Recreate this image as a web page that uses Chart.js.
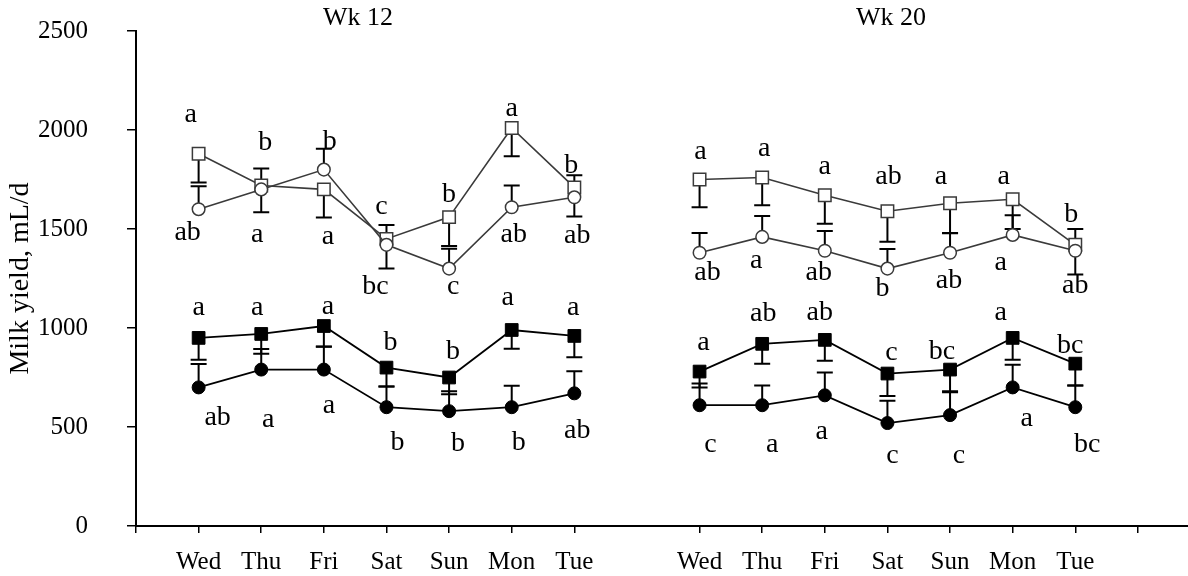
<!DOCTYPE html>
<html><head><meta charset="utf-8">
<script src="https://cdn.jsdelivr.net/npm/chart.js@4/dist/chart.umd.min.js"></script>
<style>html,body{margin:0;padding:0;background:#fff;overflow:hidden;} canvas{display:block;}</style>
</head><body>
<canvas id="c" width="1188" height="576"></canvas>
<script>
// ---------------- DATA ----------------
const days = ['Wed','Thu','Fri','Sat','Sun','Mon','Tue'];
const weeks = ['Wk 12','Wk 20'];
const yTitle = 'Milk yield, mL/d';

// values (mL/d)
const wk12OpenSquare   = [1880,1720,1700,1450,1560,2010,1710];
const wk12OpenCircle   = [1600,1700,1800,1420,1300,1610,1660];
const wk12FilledSquare = [950,970,1010,800,750,990,960];
const wk12FilledCircle = [700,790,790,600,580,600,670];
const wk20OpenSquare   = [1750,1760,1670,1590,1630,1650,1420];
const wk20OpenCircle   = [1380,1460,1390,1300,1380,1470,1390];
const wk20FilledSquare = [780,920,940,770,790,950,820];
const wk20FilledCircle = [610,610,660,520,560,700,600];

// error bars (signed: + drawn upward, - drawn downward)
const wk12OpenSquareErr   = [-145,-136,-142,-150,-146,-142,-147];
const wk12OpenCircleErr   = [116,105,105,100,100,110,112];
const wk12FilledSquareErr = [-110,-100,-103,-95,-85,-95,-108];
const wk12FilledCircleErr = [118,104,115,105,100,108,111];
const wk20OpenSquareErr   = [-140,-140,-144,-154,-152,-150,80];
const wk20OpenCircleErr   = [100,106,100,99,100,100,-120];
const wk20FilledSquareErr = [-80,-100,-105,-113,-110,-110,-110];
const wk20FilledCircleErr = [110,100,115,112,115,115,110];

// significance letters
const wk12OpenSquareSig   = ['a','b','b','c','b','a','b'];
const wk12OpenCircleSig   = ['ab','a','a','bc','c','ab','ab'];
const wk12FilledSquareSig = ['a','a','a','b','b','a','a'];
const wk12FilledCircleSig = ['ab','a','a','b','b','b','ab'];
const wk20OpenSquareSig   = ['a','a','a','ab','a','a','b'];
const wk20OpenCircleSig   = ['ab','a','ab','b','ab','a','ab'];
const wk20FilledSquareSig = ['a','ab','ab','c','bc','a','bc'];
const wk20FilledCircleSig = ['c','a','a','c','c','a','bc'];

// ---------------- LAYOUT (pixel offsets of letters from their point) ----------------
const letterOffsets = {
  os: [[-8,-39],[4,-43],[6,-48],[-5,-32],[0,-22],[0,-19],[-3,-22],  [1,-28],[2,-29],[0,-29],[1,-35],[-9,-27],[-9,-23],[-4,-30]],
  oc: [[-11,23],[-4,45],[4,67],[-11,42],[4,18],[2,27],[3,38],      [8,20],[-6,24],[-6,22],[-5,20],[-1,28],[-12,28],[0,35]],
  fs: [[0,-30],[-4,-26],[4,-19],[4,-25],[4,-26],[-4,-32],[-1,-28], [4,-29],[1,-30],[-5,-27],[4,-21],[-8,-18],[-12,-25],[-5,-18]],
  fc: [[19,30],[7,50],[5,36],[11,35],[9,32],[7,35],[3,37],         [11,39],[10,39],[-3,36],[5,33],[9,41],[14,31],[12,37]]
};
const weekTitlePos = [[358,18],[891,18]];

// ---------------- BUILD ----------------
function pts(a,b){ return [...a.map((v,i)=>({x:i+1,y:v})), {x:8,y:null}, ...b.map((v,i)=>({x:i+9,y:v}))]; }
function cat(a,b){ return [...a, null, ...b]; }
function offs(o){ return [...o.slice(0,7), null, ...o.slice(7)]; }

const GRAY = '#3a3a3a';
const datasets = [
  { label:'open circle', data:pts(wk12OpenCircle,wk20OpenCircle), errors:cat(wk12OpenCircleErr,wk20OpenCircleErr),
    letters:cat(wk12OpenCircleSig,wk20OpenCircleSig), offs:offs(letterOffsets.oc),
    borderColor:GRAY, borderWidth:1.6, pointStyle:'circle', pointRadius:6.3, pointBackgroundColor:'#fff', pointBorderColor:GRAY, pointBorderWidth:1.5 },
  { label:'open square', data:pts(wk12OpenSquare,wk20OpenSquare), errors:cat(wk12OpenSquareErr,wk20OpenSquareErr),
    letters:cat(wk12OpenSquareSig,wk20OpenSquareSig), offs:offs(letterOffsets.os),
    borderColor:GRAY, borderWidth:1.6, pointStyle:'rect', pointRadius:8.8, pointBackgroundColor:'#fff', pointBorderColor:GRAY, pointBorderWidth:1.5 },
  { label:'filled circle', data:pts(wk12FilledCircle,wk20FilledCircle), errors:cat(wk12FilledCircleErr,wk20FilledCircleErr),
    letters:cat(wk12FilledCircleSig,wk20FilledCircleSig), offs:offs(letterOffsets.fc),
    borderColor:'#000', borderWidth:1.8, pointStyle:'circle', pointRadius:6.5, pointBackgroundColor:'#000', pointBorderColor:'#000', pointBorderWidth:1 },
  { label:'filled square', data:pts(wk12FilledSquare,wk20FilledSquare), errors:cat(wk12FilledSquareErr,wk20FilledSquareErr),
    letters:cat(wk12FilledSquareSig,wk20FilledSquareSig), offs:offs(letterOffsets.fs),
    borderColor:'#000', borderWidth:1.8, pointStyle:'rect', pointRadius:9, pointBackgroundColor:'#000', pointBorderColor:'#000', pointBorderWidth:1 }
];
datasets.forEach(d=>{ d.fill=false; d.tension=0; d.spanGaps=false; d.pointHoverRadius=d.pointRadius; });

const FONT = 'Liberation Serif, "Times New Roman", serif';

const errorBars = {
  id:'errorBars',
  beforeDatasetsDraw(chart){
    const ctx=chart.ctx, ys=chart.scales.y;
    ctx.save(); ctx.strokeStyle='#000'; ctx.lineWidth=2;
    chart.data.datasets.forEach((ds,i)=>{
      const meta=chart.getDatasetMeta(i);
      ds.errors.forEach((e,j)=>{
        const v=ds.data[j].y; if(e==null||v==null) return;
        const p=meta.data[j]; const y1=ys.getPixelForValue(v+e);
        ctx.beginPath(); ctx.moveTo(p.x,p.y); ctx.lineTo(p.x,y1);
        ctx.moveTo(p.x-8,y1); ctx.lineTo(p.x+8,y1); ctx.stroke();
      });
    });
    ctx.restore();
  }
};
const letters = {
  id:'letters',
  afterDatasetsDraw(chart){
    const ctx=chart.ctx;
    ctx.save(); ctx.fillStyle='#000'; ctx.font='28px '+FONT; ctx.textAlign='center'; ctx.textBaseline='middle';
    chart.data.datasets.forEach((ds,i)=>{
      const meta=chart.getDatasetMeta(i);
      ds.letters.forEach((t,j)=>{
        if(t==null) return; const p=meta.data[j]; const o=ds.offs[j];
        ctx.fillText(t,p.x+o[0],p.y+o[1]);
      });
    });
    ctx.font='26px '+FONT;
    weeks.forEach((w,i)=>ctx.fillText(w,weekTitlePos[i][0],weekTitlePos[i][1]));
    ctx.restore();
  }
};

new Chart(document.getElementById('c'),{
  type:'line',
  data:{datasets},
  plugins:[errorBars,letters],
  options:{
    responsive:false, animation:false,
    layout:{autoPadding:false,padding:{top:31,right:0,bottom:0,left:0}},
    plugins:{legend:{display:false},tooltip:{enabled:false}},
    scales:{
      x:{type:'linear',min:0,max:16.8,
        afterFit(s){ s.height=50; s.paddingLeft=0; s.paddingRight=0; },
        border:{color:'#000',width:2},
        grid:{drawOnChartArea:false,tickLength:7,color:'#000',lineWidth:1.5,
          tickColor:(c)=> (c.tick && c.tick.value===8) ? 'rgba(0,0,0,0)' : '#000'},
        ticks:{stepSize:1,includeBounds:false,autoSkip:false,maxRotation:0,padding:14,color:'#000',
          font:{family:FONT,size:25},
          callback:(v)=> (v>=1&&v<=7)?days[v-1]:((v>=9&&v<=15)?days[v-9]:'')}
      },
      y:{min:0,max:2500,
        afterFit(s){ s.width=136; s.paddingTop=0; s.paddingBottom=0; },
        border:{color:'#000',width:2},
        grid:{drawOnChartArea:false,tickLength:9,color:'#000',lineWidth:1.5},
        ticks:{stepSize:500,padding:39,color:'#000',font:{family:FONT,size:25},callback:(v)=>String(v)},
        title:{display:true,text:yTitle,color:'#000',font:{family:FONT,size:28},padding:{top:4,bottom:0}}
      }
    }
  }
});
</script>
</body></html>
